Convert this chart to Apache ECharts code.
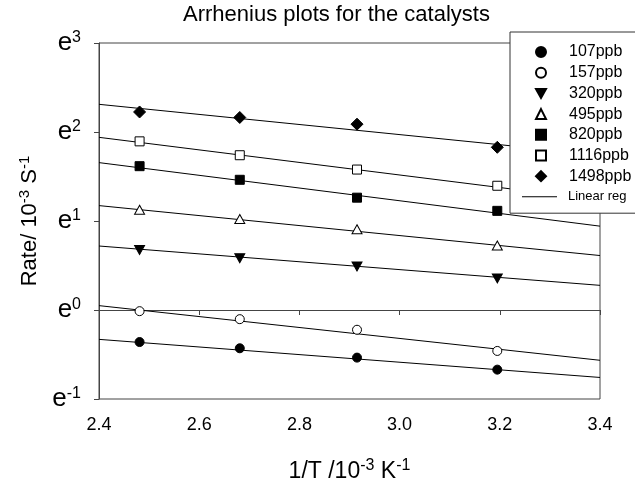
<!DOCTYPE html>
<html>
<head>
<meta charset="utf-8">
<title>Arrhenius plots for the catalysts</title>
<script src="https://cdn.jsdelivr.net/npm/echarts@6/dist/echarts.min.js"></script>
<style>
  html, body { margin: 0; padding: 0; background: #fff; }
  #chart { width: 635px; height: 488px; }
</style>
</head>
<body>
<div id="chart"></div>
<script>
// 1/T (10^-3 K^-1) of the four measured temperatures
const invT = [2.481, 2.681, 2.915, 3.195];

const concentrations = ['107ppb', '157ppb', '320ppb', '495ppb', '820ppb', '1116ppb', '1498ppb'];

const lnRate107 = [-0.36, -0.43, -0.535, -0.67];
const lnRate157 = [-0.013, -0.103, -0.222, -0.46];
const lnRate320 = [0.674, 0.581, 0.489, 0.355];
const lnRate495 = [1.126, 1.022, 0.908, 0.724];
const lnRate820 = [1.616, 1.463, 1.262, 1.114];
const lnRate1116 = [1.895, 1.739, 1.578, 1.396];
const lnRate1498 = [2.225, 2.163, 2.088, 1.828];

// regression lines, value at the two ends of the x axis
const fitX = [2.4, 3.4];
const fitStart = [-0.33, 0.049, 0.719, 1.173, 1.656, 1.94, 2.311];
const fitEnd = [-0.758, -0.565, 0.277, 0.612, 0.942, 1.235, 1.744];

const yTicks = [-1, 0, 1, 2, 3];

const allRates = [lnRate107, lnRate157, lnRate320, lnRate495, lnRate820, lnRate1116, lnRate1498];

const FONT = '"Liberation Sans", Arial, Helvetica, sans-serif';

// marker look for each concentration (legendIcon only where the legend can't copy it)
const markers = [
  { symbol: 'circle', size: 9, fill: '#000' },
  { symbol: 'circle', size: 9, fill: '#fff' },
  { symbol: 'triangle', size: [10, 9], fill: '#000', rotate: 180, legendIcon: 'path://M0,0 L10,0 L5,9 Z' },
  { symbol: 'triangle', size: [10, 9], fill: '#fff' },
  { symbol: 'rect', size: 9, fill: '#000' },
  { symbol: 'rect', size: 9, fill: '#fff' },
  { symbol: 'diamond', size: 12, fill: '#000' },
];

const chart = echarts.init(document.getElementById('chart'), null, { renderer: 'canvas' });

const scatterSeries = concentrations.map((name, i) => ({
  name: name,
  type: 'scatter',
  data: invT.map((x, j) => [x, allRates[i][j]]),
  symbol: markers[i].symbol,
  symbolSize: markers[i].size,
  symbolRotate: markers[i].rotate || 0,
  itemStyle: { color: markers[i].fill, borderColor: '#000', borderWidth: 1, opacity: 1 },
  z: 3,
}));

const fitSeries = fitStart.map((v, i) => ({
  name: 'Linear reg',
  type: 'line',
  data: [[fitX[0], v], [fitX[1], fitEnd[i]]],
  symbol: 'none',
  lineStyle: { color: '#000', width: 1 },
  itemStyle: { color: '#000' },
  z: 2,
}));

const subRich = (size, sup) => ({
  a: { fontFamily: FONT, fontSize: size, lineHeight: size + 4, color: '#000' },
  s: { fontFamily: FONT, fontSize: sup, lineHeight: sup - 1, verticalAlign: 'top', color: '#000' },
});

const option = {
  animation: false,
  backgroundColor: '#fff',
  title: {
    text: 'Arrhenius plots for the catalysts',
    left: 183,
    top: 4,
    padding: 0,
    textStyle: { fontFamily: FONT, fontSize: 22, fontWeight: 'normal', color: '#000' },
  },
  legend: [
    {
      // box + the seven marker entries
      orient: 'vertical',
      left: 510,
      top: 32,
      padding: [12, 40, 29, 25],
      itemWidth: 10,
      itemHeight: 10,
      itemGap: 4.7,
      backgroundColor: '#fff',
      borderColor: '#333',
      borderWidth: 1,
      borderRadius: 0,
      z: 10,
      selectedMode: false,
      textStyle: { fontFamily: FONT, fontSize: 16, lineHeight: 16, color: '#000', padding: [0, 0, 0, 18] },
      data: concentrations.map((n, i) => (markers[i].legendIcon ? { name: n, icon: markers[i].legendIcon } : { name: n })),
    },
    {
      orient: 'vertical',
      left: 522,
      top: 188.7,
      padding: 0,
      itemWidth: 35,
      itemHeight: 10,
      z: 11,
      selectedMode: false,
      textStyle: { fontFamily: FONT, fontSize: 13, lineHeight: 16, color: '#000', padding: [0, 0, 0, 6] },
      data: [{ name: 'Linear reg', icon: 'path://M0,0 L35,0 L35,1 L0,1 Z' }],
    },
  ],
  grid: {
    left: 99,
    right: 35,
    top: 43,
    bottom: 86,
    show: true,
    borderColor: '#444',
    borderWidth: 1,
  },
  xAxis: {
    type: 'value',
    min: 2.4,
    max: 3.4,
    interval: 0.2,
    name: '{a|1/T /10}{s|-3}{a| K}{s|-1}',
    nameLocation: 'middle',
    nameGap: 59,
    nameTextStyle: { rich: subRich(23, 16) },
    axisLine: { lineStyle: { color: '#444', width: 1 } },
    axisTick: { show: true, inside: false, length: 5, lineStyle: { color: '#444' } },
    axisLabel: {
      margin: 17,
      fontFamily: FONT,
      fontSize: 18,
      color: '#000',
      formatter: v => v.toFixed(1),
    },
    splitLine: { show: false },
  },
  yAxis: {
    type: 'value',
    min: yTicks[0],
    max: yTicks[yTicks.length - 1],
    interval: 1,
    name: '{a|Rate/ 10}{s|-3}{a| S}{s|-1}',
    nameLocation: 'middle',
    nameGap: 54,
    nameRotate: 90,
    nameTextStyle: { rich: subRich(22, 15) },
    axisLine: { show: true, lineStyle: { color: '#444', width: 1 } },
    axisTick: { show: true, inside: false, length: 5, lineStyle: { color: '#444' } },
    axisLabel: {
      margin: 18,
      formatter: v => '{e|e}{s|' + v + '}',
      rich: {
        e: { fontFamily: FONT, fontSize: 26, lineHeight: 26, color: '#000' },
        s: { fontFamily: FONT, fontSize: 16, lineHeight: 14, verticalAlign: 'top', color: '#000' },
      },
    },
    splitLine: { show: false },
  },
  series: scatterSeries.concat(fitSeries),
};

chart.setOption(option);
</script>
</body>
</html>
